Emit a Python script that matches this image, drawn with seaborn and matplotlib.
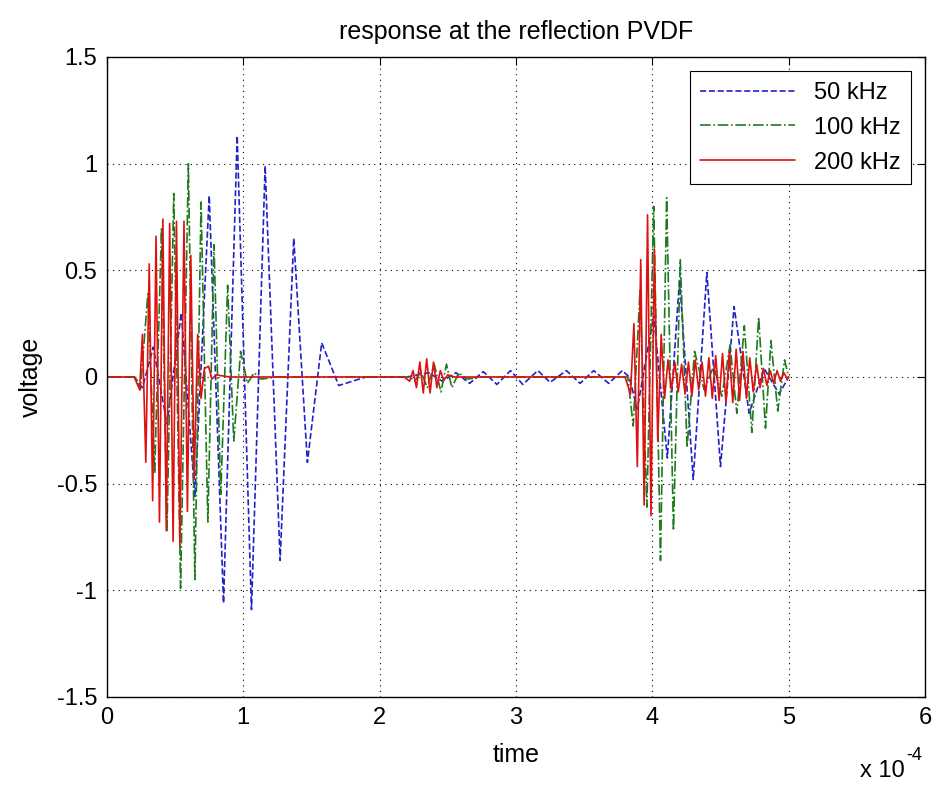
import matplotlib
matplotlib.use("Agg")
import matplotlib.pyplot as plt
import seaborn as sns

# time axis in units of 1e-4 s (peak/trough points)
t_50k = [0, 0.20, 0.26, 0.34, 0.44, 0.545, 0.645, 0.75, 0.855, 0.955, 1.06, 1.16,
         1.27, 1.37, 1.47, 1.575, 1.70, 1.80, 1.90, 2.20, 2.36, 2.46, 2.56, 2.66,
         2.76, 2.86, 2.96, 3.05, 3.16, 3.25, 3.37, 3.47, 3.57, 3.68, 3.78, 3.83,
         3.89, 4.01, 4.11, 4.20, 4.30, 4.40, 4.50, 4.60, 4.71, 4.82, 4.93, 5.00]
v_50k = [0, 0, -0.05, 0.14, -0.22, 0.30, -0.56, 0.85, -1.06, 1.13, -1.09, 0.99,
         -0.86, 0.65, -0.40, 0.16, -0.04, -0.02, 0.0, 0.0, 0.02, -0.02, 0.02, -0.03,
         0.025, -0.035, 0.03, -0.035, 0.03, -0.025, 0.03, -0.03, 0.03, -0.03, 0.03, 0.0,
         -0.15, 0.29, -0.38, 0.46, -0.48, 0.49, -0.42, 0.33, -0.17, 0.04, -0.08, 0.0]

t_100k = [0, 0.21, 0.245, 0.30, 0.35, 0.40, 0.44, 0.49, 0.54, 0.597, 0.645, 0.69,
          0.74, 0.785, 0.835, 0.885, 0.93, 0.98, 1.03, 1.08, 1.13, 1.25,
          2.22, 2.26, 2.30, 2.35, 2.40, 2.45, 2.49, 2.53, 2.58, 2.64, 2.75,
          3.82, 3.86, 3.91, 3.96, 4.01, 4.06, 4.105, 4.155, 4.205, 4.255, 4.31,
          4.38, 4.45, 4.51, 4.57, 4.62, 4.675, 4.73, 4.78, 4.83, 4.87, 4.92, 4.97, 5.00]
v_100k = [0, 0, -0.06, 0.39, -0.45, 0.70, -0.72, 0.86, -0.99, 1.00, -0.95, 0.82,
          -0.68, 0.62, -0.55, 0.43, -0.30, 0.12, -0.03, 0.02, -0.01, 0,
          0, -0.02, 0.03, -0.05, 0.06, -0.07, 0.06, -0.05, 0.02, -0.01, 0,
          0, -0.23, 0.41, -0.61, 0.80, -0.86, 0.84, -0.72, 0.55, -0.33, 0.12,
          -0.06, 0.05, -0.09, 0.15, -0.17, 0.24, -0.26, 0.28, -0.24, 0.17, -0.16, 0.08, 0.0]

t_200k = [0, 0.20, 0.24, 0.26, 0.285, 0.31, 0.335, 0.36, 0.385, 0.41, 0.435, 0.46,
          0.485, 0.51, 0.535, 0.565, 0.59, 0.615, 0.64, 0.665, 0.69, 0.715, 0.745,
          0.77, 0.80, 0.90,
          2.18, 2.22, 2.245, 2.27, 2.295, 2.32, 2.345, 2.37, 2.395, 2.42, 2.445,
          2.47, 2.50, 2.55,
          3.80, 3.84, 3.865, 3.89, 3.915, 3.94, 3.965, 3.99, 4.015, 4.04, 4.065,
          4.09, 4.115, 4.14, 4.165, 4.19, 4.215, 4.24, 4.265, 4.29, 4.315, 4.34,
          4.365, 4.39, 4.415, 4.44, 4.465, 4.49, 4.515, 4.54, 4.565, 4.59, 4.615,
          4.64, 4.665, 4.69, 4.715, 4.74, 4.765, 4.79, 4.815, 4.84, 4.865, 4.89,
          4.915, 4.94, 4.965, 4.99, 5.00]
v_200k = [0, 0, -0.06, 0.20, -0.40, 0.53, -0.58, 0.66, -0.68, 0.74, -0.72, 0.72,
          -0.77, 0.73, -0.79, 0.73, -0.63, 0.57, -0.48, 0.20, -0.10, 0.04, 0.05,
          -0.01, 0.01, 0,
          0, -0.02, 0.03, -0.05, 0.07, -0.075, 0.085, -0.075, 0.07, -0.05, 0.03,
          -0.015, 0.01, 0,
          0, -0.08, 0.25, -0.42, 0.55, -0.60, 0.76, -0.65, 0.60, -0.30, 0.20,
          -0.10, 0.08, -0.06, 0.07, -0.07, 0.06, -0.08, 0.07, -0.09, 0.08, -0.06,
          0.07, -0.09, 0.09, -0.10, 0.10, -0.11, 0.11, -0.12, 0.12, -0.12, 0.13,
          -0.11, 0.12, -0.10, 0.09, -0.07, 0.06, -0.05, 0.04, -0.04, 0.03, -0.03,
          0.03, -0.02, 0.02, -0.01, 0.0]

sns.set_style("white")
plt.rcParams["font.family"] = ["Liberation Sans", "DejaVu Sans"]
plt.rcParams["axes.unicode_minus"] = False
plt.rcParams["text.color"] = "black"
plt.rcParams["axes.labelcolor"] = "black"
plt.rcParams["xtick.color"] = "black"
plt.rcParams["ytick.color"] = "black"

fig = plt.figure(figsize=(9.35, 7.88), dpi=100)
ax = fig.add_axes([0.1144, 0.1155, 0.8749, 0.8122])

sns.lineplot(x=t_50k, y=v_50k, ax=ax, color="#2222c8", linestyle="--",
             linewidth=1.2, sort=False, estimator=None, label="50 kHz")
sns.lineplot(x=t_100k, y=v_100k, ax=ax, color="#1f7a1f", linestyle="-.",
             linewidth=1.2, sort=False, estimator=None, label="100 kHz")
sns.lineplot(x=t_200k, y=v_200k, ax=ax, color="#e01010", linestyle="-",
             linewidth=1.2, sort=False, estimator=None, label="200 kHz")

ax.set_xlim(0, 6)
ax.set_ylim(-1.5, 1.5)
ax.set_xticks([0, 1, 2, 3, 4, 5, 6])
ax.set_yticks([-1.5, -1, -0.5, 0, 0.5, 1, 1.5])
ax.set_yticklabels(["-1.5", "-1", "-0.5", "0", "0.5", "1", "1.5"])
ax.grid(True, color="black", linestyle=(0, (1, 4)), linewidth=0.8)
ax.tick_params(direction="in", top=True, right=True, length=6, width=0.8,
               labelsize=17, pad=7)
for s in ax.spines.values():
    s.set_color("black")
    s.set_linewidth(1.0)

ax.set_title("response at the reflection PVDF", fontsize=18, pad=13)
ax.set_xlabel("time", fontsize=18, labelpad=10)
ax.set_ylabel("voltage", fontsize=18, labelpad=10)
fig.text(0.968, 0.008, "x 10", ha="right", va="bottom", fontsize=17)
fig.text(0.969, 0.030, "-4", ha="left", va="bottom", fontsize=13)

leg = ax.legend(loc="upper right", fontsize=17, handlelength=4, fancybox=False,
                edgecolor="black", framealpha=1, borderaxespad=0.6,
                labelspacing=0.55, borderpad=0.45)
leg.get_frame().set_linewidth(0.8)

plt.savefig("out.png", dpi=100)
